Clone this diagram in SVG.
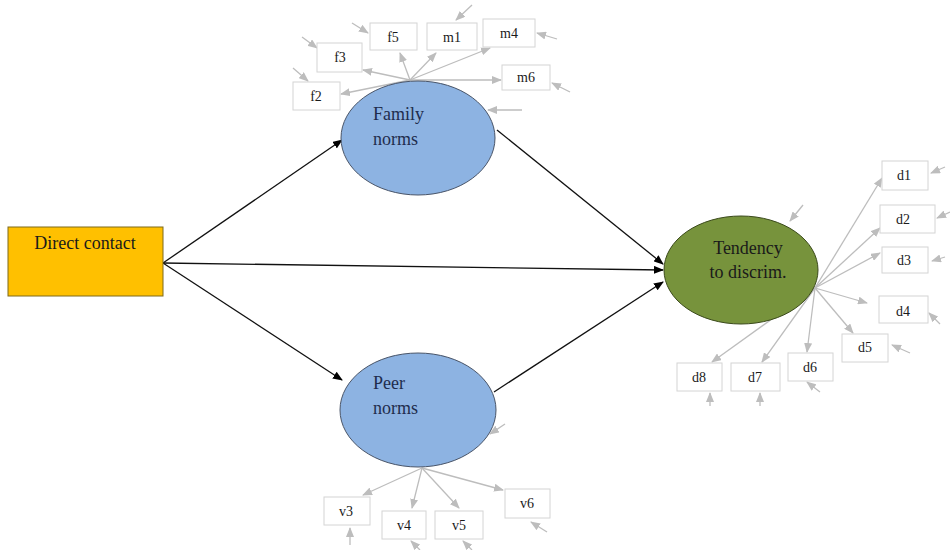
<svg xmlns="http://www.w3.org/2000/svg" width="950" height="550" viewBox="0 0 950 550">
<defs>
<marker id="ab" markerWidth="10" markerHeight="8" refX="9" refY="4" orient="auto" markerUnits="userSpaceOnUse"><path d="M0,0 L10,4 L0,8 Z" fill="#000"/></marker>
<marker id="ag" markerWidth="10" markerHeight="8" refX="9" refY="4" orient="auto" markerUnits="userSpaceOnUse"><path d="M0,0 L10,4 L0,8 Z" fill="#bdbdbd"/></marker>
<style>
.t{font-family:"Liberation Serif","Times New Roman",serif;fill:#1a1a1a}
.big{font-size:18px}
.sm{font-size:14px;text-anchor:middle}
.box{fill:#fff;stroke:#d4d4d4;stroke-width:1}
.g{stroke:#bdbdbd;stroke-width:1.3;fill:none;marker-end:url(#ag)}
.k{stroke:#111;stroke-width:1.3;fill:none;marker-end:url(#ab)}
.lat{fill:#8db3e2;stroke:#4a5568;stroke-width:1}
.nv{fill:#1f2d4d}
</style>
</defs>
<rect width="950" height="550" fill="#fff"/>

<g id="connectors">
<line class="k" x1="163" y1="263" x2="342" y2="140"/>
<line class="k" x1="163" y1="263" x2="663" y2="270"/>
<line class="k" x1="163" y1="263" x2="342" y2="380"/>
<line class="k" x1="497" y1="130" x2="663" y2="264"/>
<line class="k" x1="494" y1="392" x2="663" y2="282"/>
<line class="g" x1="410" y1="80" x2="341" y2="94"/>
<line class="g" x1="410" y1="80" x2="363" y2="70"/>
<line class="g" x1="410" y1="80" x2="400" y2="53"/>
<line class="g" x1="410" y1="80" x2="436" y2="53"/>
<line class="g" x1="410" y1="80" x2="490" y2="48"/>
<line class="g" x1="410" y1="80" x2="501" y2="80"/>
<line class="g" x1="293" y1="68" x2="308" y2="81"/>
<line class="g" x1="302" y1="37" x2="317" y2="48"/>
<line class="g" x1="352" y1="23" x2="368" y2="33"/>
<line class="g" x1="472" y1="5" x2="456" y2="20"/>
<line class="g" x1="557" y1="39" x2="537" y2="33"/>
<line class="g" x1="570" y1="92" x2="552" y2="83"/>
<line class="g" x1="522" y1="110" x2="488" y2="110"/>
<line class="g" x1="815" y1="288" x2="882" y2="178"/>
<line class="g" x1="815" y1="288" x2="880" y2="228"/>
<line class="g" x1="815" y1="288" x2="880" y2="253"/>
<line class="g" x1="815" y1="288" x2="867" y2="303"/>
<line class="g" x1="815" y1="288" x2="853" y2="333"/>
<line class="g" x1="815" y1="288" x2="807" y2="352"/>
<line class="g" x1="815" y1="288" x2="762" y2="362"/>
<line class="g" x1="815" y1="288" x2="712" y2="362"/>
<line class="g" x1="945" y1="167" x2="931" y2="173"/>
<line class="g" x1="950" y1="212" x2="937" y2="218"/>
<line class="g" x1="945" y1="257" x2="932" y2="261"/>
<line class="g" x1="940" y1="324" x2="929" y2="313"/>
<line class="g" x1="910" y1="353" x2="892" y2="345"/>
<line class="g" x1="820" y1="392" x2="807" y2="382"/>
<line class="g" x1="760" y1="406" x2="760" y2="393"/>
<line class="g" x1="710" y1="406" x2="710" y2="393"/>
<line class="g" x1="803" y1="205" x2="790" y2="221"/>
<line class="g" x1="422" y1="468" x2="363" y2="495"/>
<line class="g" x1="422" y1="468" x2="412" y2="508"/>
<line class="g" x1="422" y1="468" x2="459" y2="508"/>
<line class="g" x1="422" y1="468" x2="503" y2="490"/>
<line class="g" x1="350" y1="545" x2="350" y2="528"/>
<line class="g" x1="420" y1="550" x2="411" y2="541"/>
<line class="g" x1="472" y1="550" x2="463" y2="541"/>
<line class="g" x1="547" y1="532" x2="531" y2="522"/>
<line class="g" x1="505" y1="424" x2="490" y2="434"/>
</g>

<g id="direct-contact">
<rect x="8" y="227" width="155" height="69" fill="#ffc000" stroke="#7f6a1a" stroke-width="1"/>
<text class="t big" x="85" y="249" text-anchor="middle">Direct contact</text>
</g>

<g id="family-norms">
<ellipse class="lat" cx="418" cy="138" rx="77" ry="57"/>
<text class="t big nv" x="373" y="120">Family</text>
<text class="t big nv" x="373" y="145">norms</text>
</g>

<g id="peer-norms">
<ellipse class="lat" cx="418" cy="410" rx="78" ry="57"/>
<text class="t big nv" x="373" y="389">Peer</text>
<text class="t big nv" x="373" y="414">norms</text>
</g>

<g id="tendency">
<ellipse cx="741" cy="270" rx="77" ry="54" fill="#77933c" stroke="#3b4a1c" stroke-width="1"/>
<text class="t big" x="748" y="254" text-anchor="middle">Tendency</text>
<text class="t big" x="748" y="278" text-anchor="middle">to discrim.</text>
</g>

<g id="f2"><rect class="box" x="293" y="82" width="47" height="28"/><text class="t sm" x="316" y="101">f2</text></g>
<g id="f3"><rect class="box" x="317" y="43" width="45" height="29"/><text class="t sm" x="340" y="62">f3</text></g>
<g id="f5"><rect class="box" x="370" y="23" width="47" height="27"/><text class="t sm" x="393" y="42">f5</text></g>
<g id="m1"><rect class="box" x="427" y="23" width="50" height="27"/><text class="t sm" x="452" y="42">m1</text></g>
<g id="m4"><rect class="box" x="483" y="19" width="52" height="28"/><text class="t sm" x="509" y="38">m4</text></g>
<g id="m6"><rect class="box" x="502" y="65" width="48" height="25"/><text class="t sm" x="526" y="82">m6</text></g>

<g id="d1"><rect class="box" x="882" y="161" width="46" height="29"/><text class="t sm" x="904" y="180">d1</text></g>
<g id="d2"><rect class="box" x="880" y="205" width="55" height="28"/><text class="t sm" x="903" y="224">d2</text></g>
<g id="d3"><rect class="box" x="882" y="247" width="46" height="26"/><text class="t sm" x="904" y="265">d3</text></g>
<g id="d4"><rect class="box" x="879" y="296" width="49" height="27"/><text class="t sm" x="903" y="316">d4</text></g>
<g id="d5"><rect class="box" x="842" y="334" width="46" height="28"/><text class="t sm" x="865" y="352">d5</text></g>
<g id="d6"><rect class="box" x="788" y="353" width="45" height="28"/><text class="t sm" x="810" y="372">d6</text></g>
<g id="d7"><rect class="box" x="731" y="363" width="49" height="28"/><text class="t sm" x="755" y="382">d7</text></g>
<g id="d8"><rect class="box" x="677" y="363" width="45" height="28"/><text class="t sm" x="699" y="382">d8</text></g>

<g id="v3"><rect class="box" x="324" y="497" width="46" height="28"/><text class="t sm" x="346" y="516">v3</text></g>
<g id="v4"><rect class="box" x="382" y="511" width="44" height="28"/><text class="t sm" x="404" y="530">v4</text></g>
<g id="v5"><rect class="box" x="435" y="511" width="48" height="28"/><text class="t sm" x="459" y="530">v5</text></g>
<g id="v6"><rect class="box" x="505" y="489" width="45" height="29"/><text class="t sm" x="527" y="508">v6</text></g>
</svg>
